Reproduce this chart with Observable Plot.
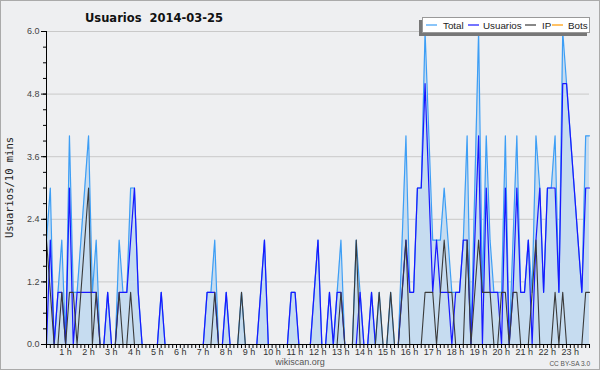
<!DOCTYPE html>
<html><head><meta charset="utf-8">
<script src="https://cdn.jsdelivr.net/npm/d3@7"></script>
<script src="https://cdn.jsdelivr.net/npm/@observablehq/plot@0.6"></script>
<style>
html,body{margin:0;padding:0;background:#eeeff1;}
#chart{width:600px;height:370px;}
</style></head><body><div id="chart"></div>
<script>
// 10-minute slots, 2014-03-25
const usuarios = [
0,2,0,1,1,0,3,0,1,1,
1,1,1,1,0,0,1,0,0,1,
1,1,2,3,1,0,0,0,0,0,
1,0,0,0,0,0,0,0,0,0,
0,0,1,1,1,0,0,1,0,0,
0,0,0,0,0,0,1,2,0,0,
0,0,0,0,1,1,0,0,0,0,
1,2,0,0,1,0,1,1,0,0,
0,0,1,0,0,1,0,0,0,0,
0,0,0,1,2,1,1,3,3,5,
3,1,2,1,1,1,0,1,1,2,
2,0,2,4,0,3,1,1,1,0,
3,0,1,3,1,1,2,0,2,3,
1,3,3,3,1,5,5,4,3,2,
1,3,3];
const ip = [
2,1,0,0,1,0,1,1,0,1,
2,3,0,1,0,0,0,0,0,1,
0,0,1,0,0,0,0,0,0,0,
0,0,0,0,0,0,0,0,0,0,
0,0,0,0,1,0,0,0,0,0,
0,1,0,0,0,0,0,0,0,0,
0,0,0,0,0,0,0,0,0,0,
0,0,0,0,0,0,0,1,0,0,
0,2,0,0,0,0,0,1,0,0,
1,0,0,1,2,0,0,0,0,1,
1,1,0,1,2,1,1,0,0,0,
2,0,1,2,1,1,1,0,0,1,
1,0,1,1,0,0,0,1,2,0,
0,0,0,1,0,1,0,0,0,0,
0,1,1];
const total = [
2,3,0,1,2,0,4,1,1,2,
3,4,1,2,0,0,1,0,0,2,
1,1,3,3,1,0,0,0,0,0,
1,0,0,0,0,0,0,0,0,0,
0,0,1,1,2,0,0,1,0,0,
0,1,0,0,0,0,1,2,0,0,
0,0,0,0,1,1,0,0,0,0,
1,2,0,0,1,0,1,2,0,0,
0,2,1,0,0,1,0,1,0,0,
1,0,0,2,4,1,1,3,3,6,
4,2,2,2,3,2,1,1,1,2,
4,0,3,6,1,4,2,1,1,1,
4,0,2,4,1,1,2,1,4,3,
1,3,3,4,1,6,5,4,3,2,
1,4,4];
const bots = total.map(() => 0);
const yTicks = [0, 1.2, 2.4, 3.6, 4.8, 6.0];
const hours = d3.range(1, 24);
const seriesNames = ["Total", "Usuarios", "IP", "Bots"];
const seriesColors = ["#3d9ef5", "#1818ff", "#3a3a3a", "#ff9a00"];

const rows = total.map((t, i) => ({i, total: t, usuarios: usuarios[i], ip: ip[i], bots: bots[i]}));
const minorY = d3.range(0, 6.0001, 0.3);

const chart = Plot.plot({
  width: 600, height: 370,
  marginLeft: 46, marginRight: 11, marginTop: 31, marginBottom: 26,
  style: {background: "#eeeff1", fontFamily: "'Liberation Sans', Arial, sans-serif", overflow: "visible"},
  x: {domain: [0, total.length - 1], axis: null, label: null},
  y: {domain: [0, 6], axis: null, label: null},
  marks: [
    Plot.gridY(yTicks.slice(1), {stroke: "#c9c9c9", strokeOpacity: 1}),
    Plot.areaY(rows, {x: "i", y: "total", fill: "#c6dcf0"}),
    Plot.lineY(rows, {x: "i", y: "bots", stroke: seriesColors[3], strokeWidth: 1.1}),
    Plot.lineY(rows, {x: "i", y: "total", stroke: seriesColors[0], strokeWidth: 1.2}),
    Plot.lineY(rows, {x: "i", y: "usuarios", stroke: seriesColors[1], strokeWidth: 1.2}),
    Plot.lineY(rows, {x: "i", y: "ip", stroke: seriesColors[2], strokeWidth: 1.1}),
    Plot.axisY(minorY, {tickSize: 3, tickFormat: () => "", stroke: "#000"}),
    Plot.axisY(yTicks, {tickSize: 5, tickPadding: 2, tickFormat: d3.format(".1f"), fontSize: 9, fill: "#444", stroke: "#000"}),
    Plot.axisX(d3.range(0, total.length), {tickSize: 4, tickFormat: () => "", stroke: "#000"}),
    Plot.axisX(hours.map(h => h * 6), {tickSize: 0, tickPadding: 4, dx: -4, tickFormat: d => `${d / 6} h`, fontSize: 9, fill: "#333"}),
    Plot.ruleX([0], {stroke: "#000"}),
    Plot.ruleY([0], {stroke: "#000"})
  ]
});
document.getElementById("chart").appendChild(chart);

const svg = d3.select(chart);
// outer border
svg.append("rect").attr("x", 0.5).attr("y", 0.5).attr("width", 599).attr("height", 369)
  .attr("fill", "none").attr("stroke", "#aaa");
// title
svg.append("text").attr("x", 85).attr("y", 22).attr("text-anchor", "start")
  .attr("font-family", "'DejaVu Sans', sans-serif").attr("font-weight", "bold").attr("font-size", 11.5)
  .attr("fill", "#111").attr("xml:space", "preserve").text("Usuarios  2014-03-25");
// y label
svg.append("text").attr("transform", "translate(13,187.5) rotate(-90)")
  .attr("text-anchor", "middle").attr("font-family", "'DejaVu Sans Mono', monospace")
  .attr("font-size", 10.5).attr("fill", "#222").text("Usuarios/10 mins");
// credits
svg.append("text").attr("x", 300).attr("y", 365).attr("text-anchor", "middle")
  .attr("font-size", 9).attr("fill", "#555").attr("font-family", "'Liberation Sans', Arial, sans-serif").text("wikiscan.org");
svg.append("text").attr("x", 590).attr("y", 366).attr("text-anchor", "end")
  .attr("font-size", 6.5).attr("fill", "#555").attr("font-family", "'Liberation Sans', Arial, sans-serif").text("CC BY-SA 3.0");
// legend
const lg = svg.append("g");
lg.append("rect").attr("x", 419).attr("y", 20).attr("width", 168).attr("height", 16).attr("fill", "#777");
lg.append("rect").attr("x", 422.5).attr("y", 17.5).attr("width", 167).attr("height", 15).attr("fill", "#fff").attr("stroke", "#999");
const lx = [426, 468, 525, 552];
const tx = [443, 483, 542, 568];
seriesNames.forEach((name, k) => {
  lg.append("line").attr("x1", lx[k]).attr("x2", lx[k] + 11).attr("y1", 25).attr("y2", 25)
    .attr("stroke", seriesColors[k]).attr("stroke-width", 1.2);
  lg.append("text").attr("x", tx[k]).attr("y", 28.5).attr("text-anchor", "start").attr("font-size", 9.8)
    .attr("font-family", "'Liberation Sans', Arial, sans-serif").attr("fill", "#222").text(name);
});
</script>
</body></html>
